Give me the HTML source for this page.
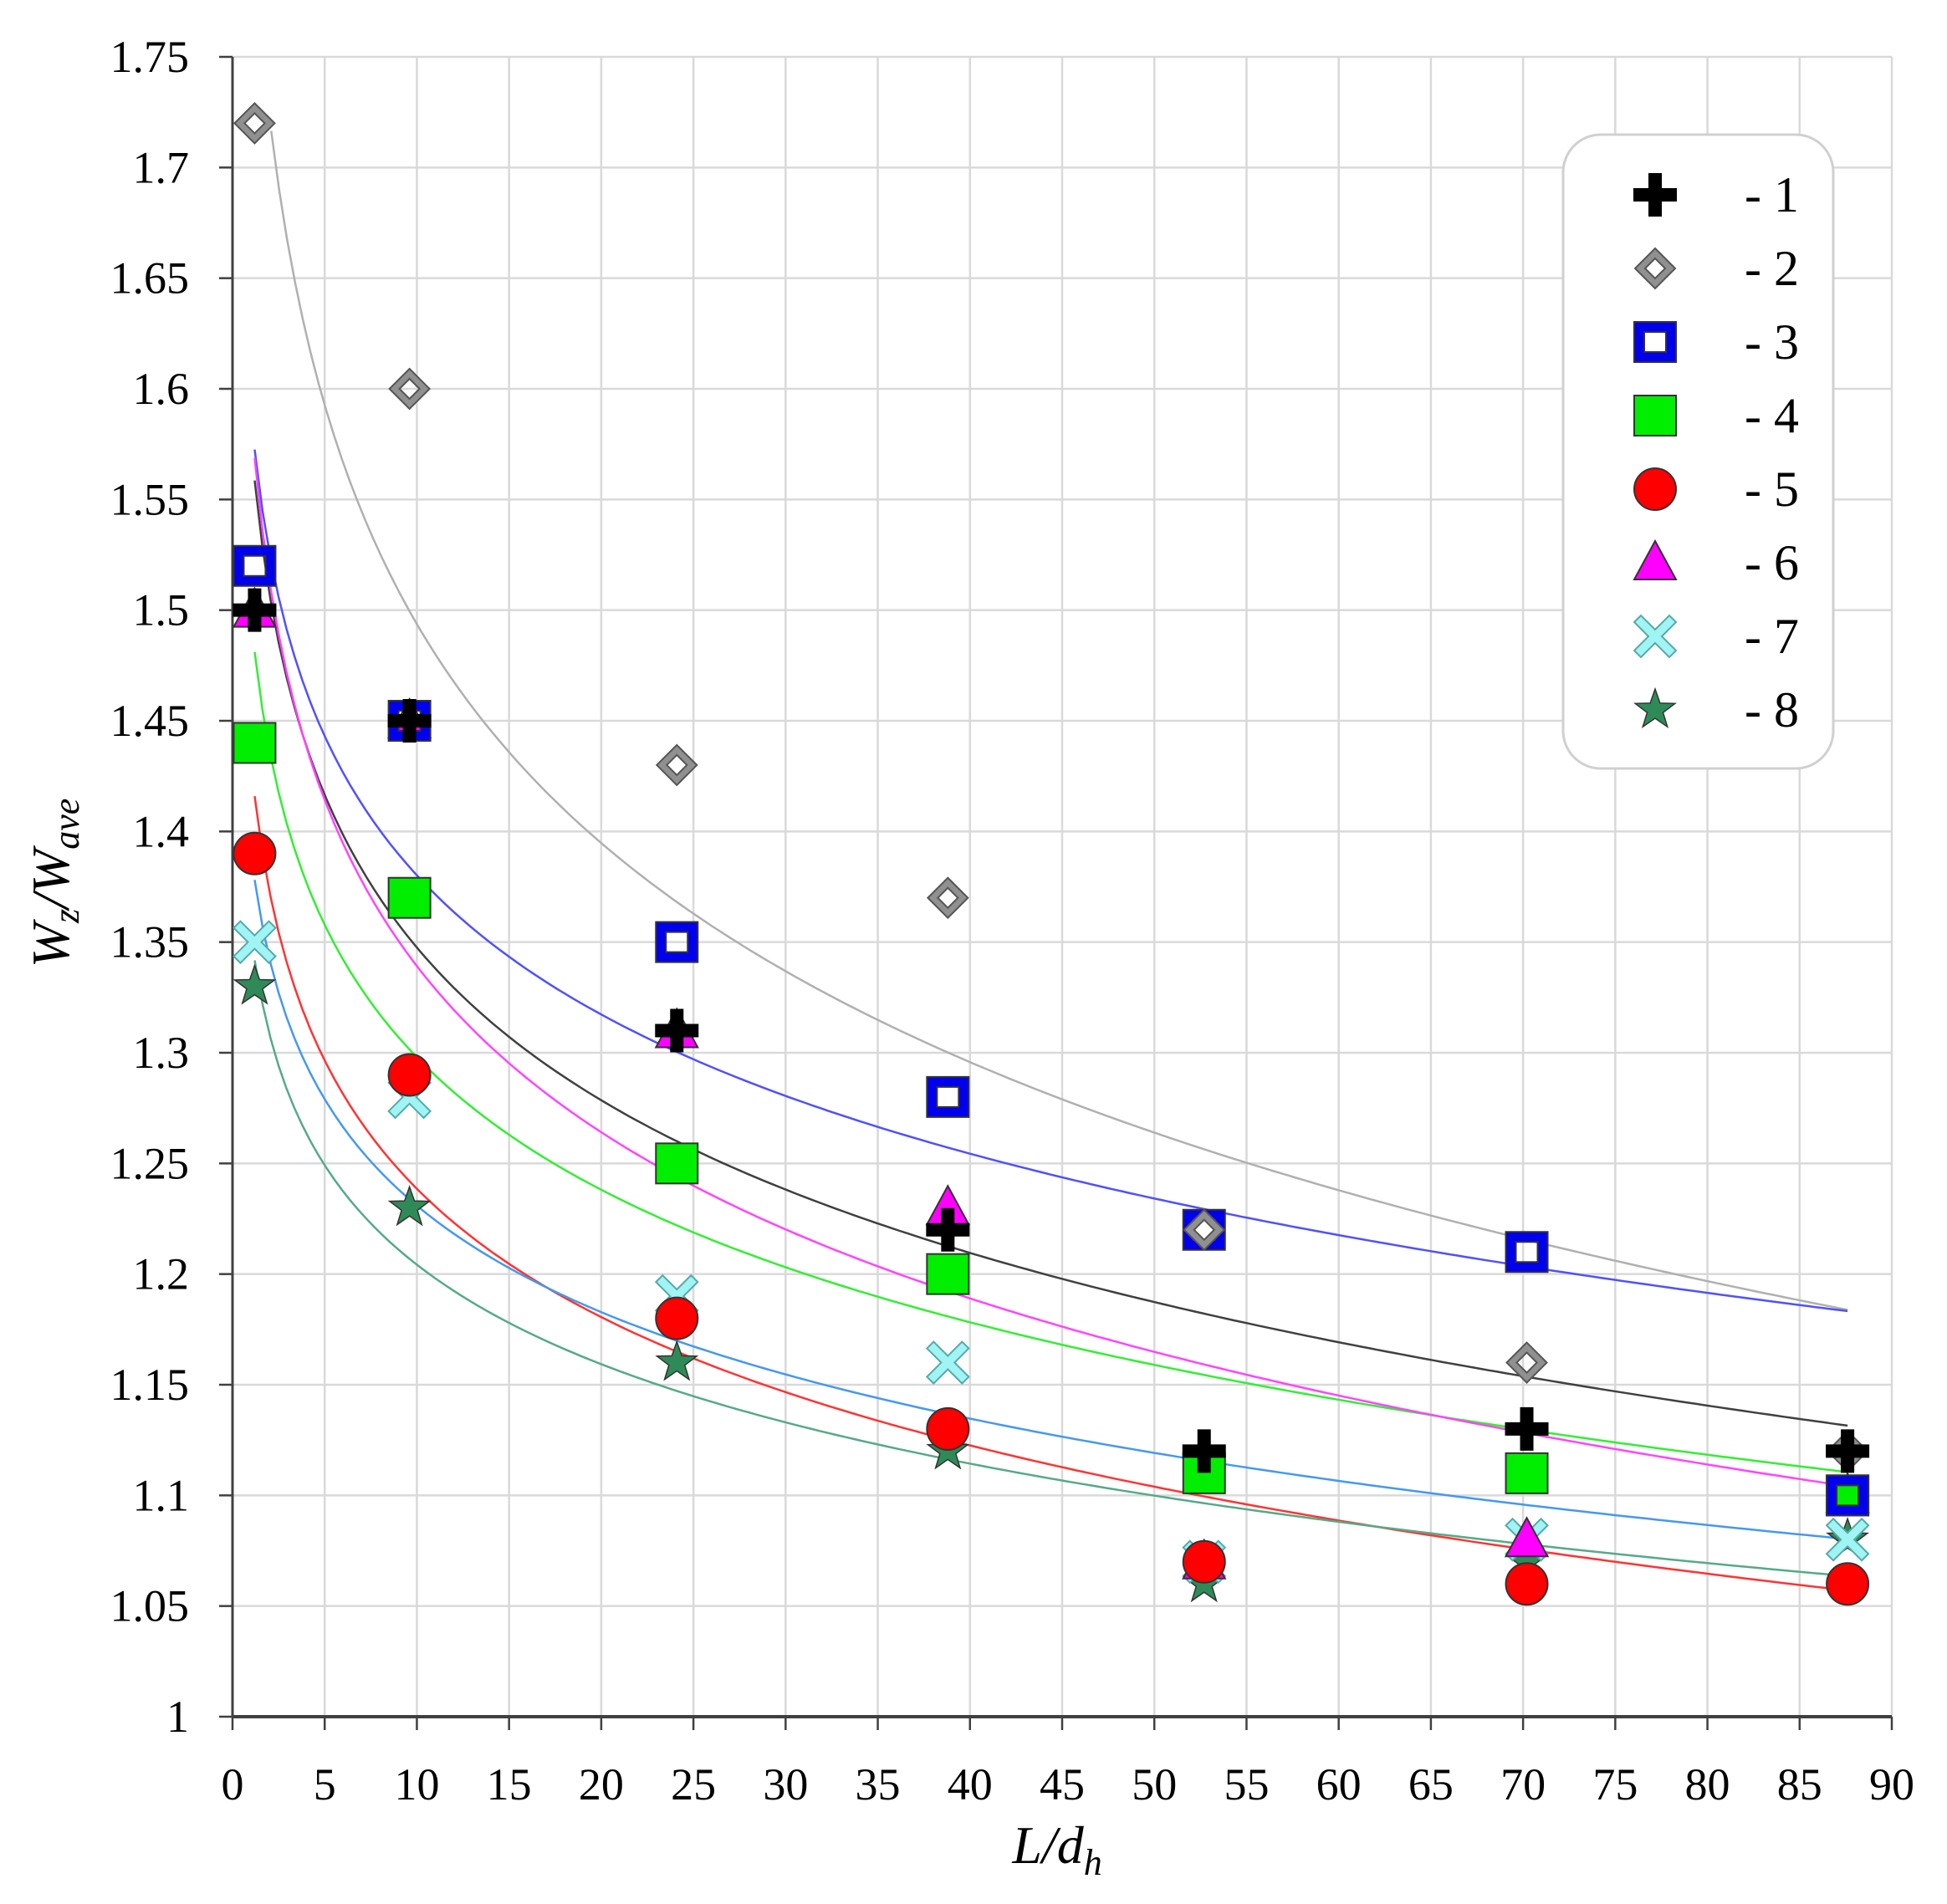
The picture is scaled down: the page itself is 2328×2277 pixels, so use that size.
<!DOCTYPE html>
<html><head><meta charset="utf-8"><style>
html,body{margin:0;padding:0;background:#fff;}
svg{display:block;}
text{font-family:"Liberation Serif","Times New Roman",serif;fill:#000;}
</style></head><body>
<svg id="chart" width="2328" height="2277" viewBox="0 0 2328 2277" xmlns="http://www.w3.org/2000/svg">
<g id="grid"></g>
<g id="axes"></g>
<g id="curves"></g>
<g id="marks"></g>
<g id="legend"></g>
<text font-family="Liberation Serif, serif" transform="translate(82,1056) rotate(-90)" text-anchor="middle" font-size="64" font-style="italic">W<tspan font-size="44" dy="12">z</tspan><tspan dy="-12">/W</tspan><tspan font-size="44" dy="12">ave</tspan></text>
<text font-family="Liberation Serif, serif" x="1264" y="2228" text-anchor="middle" font-size="64" font-style="italic">L/d<tspan font-size="44" dy="14">h</tspan></text>
</svg>
<script>
const xVals = [1.2, 9.6, 24.1, 38.8, 52.7, 70.2, 87.6];
const s1 = [1.50, 1.45, 1.31, 1.22, 1.12, 1.13, 1.12];
const s2 = [1.72, 1.60, 1.43, 1.37, 1.22, 1.16, 1.12];
const s3 = [1.52, 1.45, 1.35, 1.28, 1.22, 1.21, 1.10];
const s4 = [1.44, 1.37, 1.25, 1.20, 1.11, 1.11, 1.10];
const s5 = [1.39, 1.29, 1.18, 1.13, 1.07, 1.06, 1.06];
const s6 = [1.50, 1.45, 1.31, 1.23, 1.07, 1.08, 1.10];
const s7 = [1.35, 1.28, 1.19, 1.16, 1.07, 1.08, 1.08];
const s8 = [1.33, 1.23, 1.16, 1.12, 1.06, 1.07, 1.08];
const xTicks = [0,5,10,15,20,25,30,35,40,45,50,55,60,65,70,75,80,85,90];
const yTicks = [1,1.05,1.1,1.15,1.2,1.25,1.3,1.35,1.4,1.45,1.5,1.55,1.6,1.65,1.7,1.75];
const yTickLabels = ["1","1.05","1.1","1.15","1.2","1.25","1.3","1.35","1.4","1.45","1.5","1.55","1.6","1.65","1.7","1.75"];
const legendLabels = ["- 1","- 2","- 3","- 4","- 5","- 6","- 7","- 8"];

const NS="http://www.w3.org/2000/svg";
const X0=278,X1=2262,Y0=2053,Y1=68;
const sx=v=>X0+(v-0)/(90-0)*(X1-X0);
const sy=v=>Y0-(v-1)/(1.75-1)*(Y0-Y1);
function el(tag,attrs,parent){const e=document.createElementNS(NS,tag);for(const k in attrs)e.setAttribute(k,attrs[k]);parent.appendChild(e);return e;}
const grid=document.getElementById('grid'),axes=document.getElementById('axes'),curves=document.getElementById('curves'),marks=document.getElementById('marks'),legend=document.getElementById('legend');

xTicks.forEach((t,i)=>{
  if(t>0){const g=el('line',{x1:sx(t),x2:sx(t),y1:Y1,y2:Y0,stroke:'#d9d9d9','stroke-width':2.5},grid);
  
  }
  const tk=el('line',{x1:sx(t),x2:sx(t),y1:Y0,y2:Y0+16,stroke:'#404040','stroke-width':2.5},axes);
  
  
  const lb=el('text',{x:sx(t),y:2152,'text-anchor':'middle','font-size':54,'font-family':'Liberation Serif, serif'},axes);
  lb.textContent=String(t);
  
  
});
yTicks.forEach((t,i)=>{
  if(t>1){const g=el('line',{x1:X0,x2:X1,y1:sy(t),y2:sy(t),stroke:'#d9d9d9','stroke-width':2.5},grid);
  
  }
  const tk=el('line',{x1:X0-16,x2:X0,y1:sy(t),y2:sy(t),stroke:'#404040','stroke-width':2.5},axes);
  
  
  const lb=el('text',{x:226,y:sy(t)+18,'text-anchor':'end','font-size':54,'font-family':'Liberation Serif, serif'},axes);
  lb.textContent=yTickLabels[i];
  
  
});
const ya=el('line',{x1:X0,x2:X0,y1:Y1,y2:Y0,stroke:'#404040','stroke-width':3},axes);


const xa=el('line',{x1:X0,x2:X1,y1:Y0,y2:Y0,stroke:'#404040','stroke-width':4},axes);



function fitLog(ys){const n=xVals.length;let a=0,b=0,c=0,d=0;for(let i=0;i<n;i++){const l=Math.log(xVals[i]);a+=l;b+=ys[i];c+=l*l;d+=l*ys[i];}
  const m=(n*d-a*b)/(n*c-a*a);return {m:m,k:(b-m*a)/n};}
const series=[
 {ys:s1,type:'plus',line:'#404040'},{ys:s2,type:'diamond',line:'#b0b0b0'},{ys:s3,type:'hsquare',line:'#5050ff'},
 {ys:s4,type:'square',line:'#33ee33'},{ys:s5,type:'circle',line:'#ff3333'},{ys:s6,type:'tri',line:'#ff44ff'},
 {ys:s7,type:'x',line:'#4499ee'},{ys:s8,type:'star',line:'#55aa88'}];
series.forEach((s,si)=>{
  const f=fitLog(s.ys);let d='';let xs=xVals[0];const xe=xVals[xVals.length-1];
  if(s.type==='diamond'){xs=xVals[0]+0.9;}
  for(let j=0;j<=200;j++){const x=xs+(xe-xs)*j/200;d+=(j?'L':'M')+sx(x).toFixed(1)+','+sy(f.k+f.m*Math.log(x)).toFixed(1);}
  const p=el('path',{d:d,fill:'none',stroke:s.line,'stroke-width':2.5},curves);
  
  
});
function marker(type,x,y,parent){
  const g=el('g',{transform:`translate(${x},${y})`},parent);
  const st={stroke:'#333','stroke-width':2};
  if(type==='plus'){el('path',{d:'M-8,-26H8V-8H26V8H8V26H-8V8H-26V-8H-8Z',fill:'#000'},g);}
  else if(type==='diamond'){el('path',{d:'M0,-24L24,0L0,24L-24,0Z M0,-12L-12,0L0,12L12,0Z',fill:'#909090','fill-rule':'evenodd',stroke:'#555','stroke-width':2},g);}
  else if(type==='hsquare'){el('path',{d:'M-25,-24H25V24H-25Z M-13,-12V12H13V-12Z',fill:'#0000ee','fill-rule':'evenodd',stroke:'#333','stroke-width':2},g);}
  else if(type==='square'){el('rect',Object.assign({x:-25,y:-24,width:50,height:48,fill:'#00ee00'},st),g);}
  else if(type==='circle'){el('ellipse',Object.assign({cx:0,cy:0,rx:25,ry:25,fill:'#ff0000'},st),g);}
  else if(type==='tri'){el('path',Object.assign({d:'M0,-26L25,20H-25Z',fill:'#ff00ff'},st),g);}
  else if(type==='x'){el('path',{d:'M-25,-17L-17,-25L0,-8L17,-25L25,-17L8,0L25,17L17,25L0,8L-17,25L-25,17L-8,0Z',fill:'#a0f4f4',stroke:'#5aa','stroke-width':2},g);}
  else if(type==='star'){let d='';for(let k=0;k<10;k++){const r=k%2?10:25,a=-Math.PI/2+k*Math.PI/5;d+=(k?'L':'M')+(r*Math.cos(a)).toFixed(1)+','+(r*Math.sin(a)).toFixed(1);}el('path',{d:d+'Z',fill:'#2e8b57',stroke:'#333','stroke-width':1.5},g);}
  return g;
}
for(let si=series.length-1;si>=0;si--){
  const s=series[si];
  s.ys.forEach((v,i)=>{
    const m=marker(s.type,sx(xVals[i]),sy(v),marks);
    
    
  });
}
const box=el('rect',{x:1869,y:161,width:323,height:758,rx:45,fill:'#fff',stroke:'#d0d0d0','stroke-width':3},legend);


series.forEach((s,si)=>{
  const y=233+si*88;
  const m=marker(s.type,1979,y,legend);
  
  
  const t=el('text',{x:2086,y:y+20,'font-size':60,'font-family':'Liberation Serif, serif'},legend);
  t.textContent=legendLabels[si];
  
  
});
</script>
</body></html>
